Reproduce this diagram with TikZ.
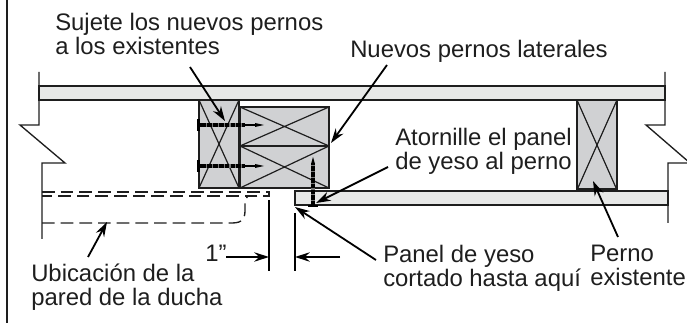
\documentclass[tikz,border=0pt]{standalone}
\usepackage{fontspec}
\setmainfont{Liberation Sans}
\usetikzlibrary{arrows.meta}
\definecolor{studgray}{RGB}{208,209,211}
\definecolor{panelgray}{RGB}{231,232,231}
\definecolor{ink}{RGB}{30,30,30}
\definecolor{tickgray}{RGB}{120,120,120}
\tikzset{
  wall/.style={draw=ink,line width=1pt},
  stud/.style={draw=ink,line width=1.1pt,fill=studgray},
  cross/.style={draw=ink,line width=0.9pt},
  panel/.style={draw=ink,line width=1.2pt,fill=panelgray},
  hidden/.style={draw=ink,line width=1pt,dash pattern=on 9.5pt off 4.5pt},
  leader/.style={draw=black,line width=1.35pt,-{Stealth[length=11pt,width=7pt]}},
  dimline/.style={draw=black,line width=1.2pt},
  label/.style={font=\fontsize{17.9pt}{18pt}\selectfont,text=ink,inner sep=0pt,align=left,anchor=north west},
  screwbody/.style={draw=black,line width=3.6pt},
  screwtick/.style={draw=tickgray,line width=3.6pt,dash pattern=on 0.8pt off 3.6pt},
}
\begin{document}
\begin{tikzpicture}[x=0.75pt,y=-0.75pt]
\useasboundingbox (0,0) rectangle (687,324);
% frame line
\draw[line width=1.3pt,draw=ink] (7,0) -- (7,323);
% wall outlines
\draw[wall] (39,72) -- (39,125) -- (20,125) -- (65,163) -- (42,163) -- (42,239);
\draw[wall] (665,72) -- (665,125) -- (646,125) -- (690,163) -- (668,163) -- (668,223);
% panels
\path[panel] (39,86) rectangle (665,100);
\path[panel] (295,191) rectangle (668,205);
% studs
\path[stud] (199,100) rectangle (239,188);
\draw[cross] (199,100) -- (239,188) (239,100) -- (199,188);
\path[stud] (240,107) rectangle (329,146);
\draw[cross] (240,107) -- (329,146) (329,107) -- (240,146);
\path[stud] (240,146) rectangle (329,188);
\draw[cross] (240,146) -- (329,188) (329,146) -- (240,188);
\draw[line width=2pt,draw=ink] (239,100) -- (239,188);
\draw[line width=2.2pt,draw=ink] (240,146) -- (329,146);
\path[stud] (577,100) rectangle (617,190);
\draw[cross] (577,100) -- (617,190) (617,100) -- (577,190);
\draw[line width=2.4pt,draw=ink] (577,190) -- (617,190);
% screws
\foreach \yy in {125,166}{
  \draw[screwbody] (200,\yy) -- (245,\yy);
  \draw[black,line width=2.2pt] (245,\yy) -- (256,\yy);
  \fill[black] (255,\yy-2) -- (264,\yy) -- (255,\yy+2) -- cycle;
  \fill[black] (197,\yy-6) rectangle (200,\yy+6);
  \draw[screwtick] (206,\yy) -- (245,\yy);
}
\draw[draw=black,line width=2.8pt] (313,164) -- (313,205);
\fill[black] (311,164) -- (313,157) -- (315,164) -- cycle;
\fill[black] (308,205) rectangle (318,207);
\draw[draw=tickgray,line width=2.8pt,dash pattern=on 0.8pt off 3.6pt] (313,165) -- (313,204);
% hidden shower wall
\draw[hidden] (42,192) -- (269,192) -- (269,196) -- (42,196);
\draw[hidden] (42,223) -- (232,223) .. controls (243,223) and (245,218) .. (245,210) -- (245,200) -- (248,196);
% dimension lines
\coordinate (dimL) at (269,257);
\coordinate (dimR) at (295,257);
\draw[dimline] (269,200) -- (269,271);
\draw[dimline] (295,213) -- (295,271);
% labels
\node[label] (sujete) at (55,13) {Sujete los nuevos pernos\\a los existentes};
\node[label] (nuevos) at (350,40) {Nuevos pernos laterales};
\node[label] (atorn) at (395,128) {Atornille el panel\\de yeso al perno};
\node[label] (inch) at (205,245) {1”};
\node[label] (ubic) at (31,264) {Ubicación de la\\pared de la ducha};
\node[label] (panelt) at (383,245) {Panel de yeso\\cortado hasta aquí};
\node[label] (perno) at (590,245) {Perno\\existente};
% leader coordinates
\coordinate (a1s) at (190,67); \coordinate (a1e) at (225,121);
\coordinate (a2s) at (387,65); \coordinate (a2e) at (331,143);
\coordinate (a3s) at (388,167); \coordinate (a3e) at (316,203);
\coordinate (a4s) at (376,260); \coordinate (a4e) at (295,207);
\coordinate (a5s) at (618,237); \coordinate (a5e) at (593,181);
\coordinate (a6s) at (88,257); \coordinate (a6e) at (107,222);
\coordinate (a7s) at (226,257);
\coordinate (a8s) at (340,257);
\draw[leader] (a1s) -- (a1e);
\draw[leader] (a2s) -- (a2e);
\draw[leader] (a3s) -- (a3e);
\draw[leader] (a4s) -- (a4e);
\draw[leader] (a5s) -- (a5e);
\draw[leader] (a6s) -- (a6e);
\draw[leader] (a7s) -- (dimL);
\draw[leader] (a8s) -- (dimR);
\end{tikzpicture}
\end{document}
